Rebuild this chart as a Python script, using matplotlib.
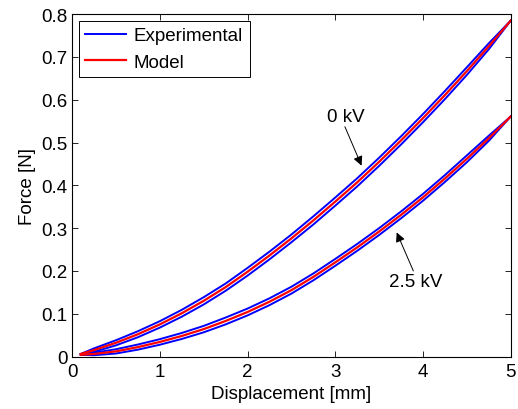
import matplotlib
matplotlib.use("Agg")
from matplotlib import pyplot as plt

plt.rcParams['font.family'] = ['Liberation Sans', 'DejaVu Sans']

disp = [0.1, 0.25, 0.5, 0.75, 1.0, 1.25, 1.5, 1.75, 2.0, 2.25, 2.5,
        2.75, 3.0, 3.25, 3.5, 3.75, 4.0, 4.25, 4.5, 4.75, 5.0]

# 0 kV - measured loading / unloading branches and model
exp_0kv_up = [0.006, 0.019, 0.038, 0.059, 0.0825, 0.109, 0.1385, 0.1705, 0.207, 0.245, 0.285,
              0.3275, 0.3715, 0.4165, 0.4645, 0.5145, 0.5665, 0.6205, 0.676, 0.732, 0.785]
exp_0kv_down = [0.006, 0.011, 0.026, 0.045, 0.0675, 0.093, 0.1215, 0.1535, 0.189, 0.227, 0.267,
                0.3085, 0.3525, 0.3975, 0.4455, 0.4955, 0.5475, 0.6015, 0.658, 0.718, 0.785]
model_0kv = [0.006, 0.015, 0.032, 0.052, 0.075, 0.101, 0.130, 0.162, 0.198, 0.236, 0.276,
             0.318, 0.362, 0.407, 0.455, 0.505, 0.557, 0.611, 0.667, 0.725, 0.785]

# 2.5 kV
exp_25kv_up = [0.004, 0.009, 0.017, 0.028, 0.0405, 0.055, 0.0715, 0.091, 0.112, 0.136, 0.163,
               0.194, 0.228, 0.263, 0.300, 0.339, 0.380, 0.424, 0.470, 0.516, 0.561]
exp_25kv_down = [0.004, 0.003, 0.007, 0.016, 0.0275, 0.041, 0.0565, 0.075, 0.096, 0.120, 0.147,
                 0.178, 0.212, 0.247, 0.284, 0.323, 0.364, 0.408, 0.454, 0.504, 0.561]
model_25kv = [0.004, 0.006, 0.012, 0.022, 0.034, 0.048, 0.064, 0.083, 0.104, 0.128, 0.155,
              0.186, 0.220, 0.255, 0.292, 0.331, 0.372, 0.416, 0.462, 0.510, 0.561]

fs = 13.5

fig = plt.figure(figsize=(5.18, 4.10), dpi=100)
ax = fig.add_axes([0.139, 0.128, 0.847, 0.835])

blue = '#0000ff'
red = '#ff0000'

ax.plot(disp, exp_0kv_up, color=blue, lw=1.4, label='Experimental')
ax.plot(disp, exp_0kv_down, color=blue, lw=1.4)
ax.plot(disp, exp_25kv_up, color=blue, lw=1.4)
ax.plot(disp, exp_25kv_down, color=blue, lw=1.4)
ax.plot(disp, model_0kv, color=red, lw=1.6, label='Model')
ax.plot(disp, model_25kv, color=red, lw=1.6)

ax.set_xlim(0, 5)
ax.set_ylim(0, 0.8)
ax.set_xticks([0, 1, 2, 3, 4, 5])
ax.set_yticks([0, 0.1, 0.2, 0.3, 0.4, 0.5, 0.6, 0.7, 0.8])
ax.set_yticklabels(['0', '0.1', '0.2', '0.3', '0.4', '0.5', '0.6', '0.7', '0.8'])
ax.tick_params(direction='in', top=True, right=True, length=4, width=0.6,
               labelsize=fs)
ax.tick_params(axis='x', pad=5)
ax.tick_params(axis='y', pad=3)
for s in ax.spines.values():
    s.set_linewidth(0.8)

ax.set_xlabel('Displacement [mm]', fontsize=fs, labelpad=3)
ax.set_ylabel('Force [N]', fontsize=fs, labelpad=4)

# voltage labels with arrows pointing at each loop
ax.text(3.12, 0.562, '0 kV', fontsize=fs, ha='center', va='center')
ax.annotate('', xy=(3.30, 0.446), xytext=(3.11, 0.537),
            arrowprops=dict(arrowstyle='-|>', color='k', lw=0.7, mutation_scale=14,
                            shrinkA=0, shrinkB=0))
ax.text(3.92, 0.176, '2.5 kV', fontsize=fs, ha='center', va='center')
ax.annotate('', xy=(3.70, 0.290), xytext=(3.89, 0.200),
            arrowprops=dict(arrowstyle='-|>', color='k', lw=0.7, mutation_scale=14,
                            shrinkA=0, shrinkB=0))

leg = ax.legend(loc='upper left', fontsize=fs, fancybox=False, framealpha=1,
                edgecolor='k', handlelength=2.2, borderpad=0.35,
                labelspacing=0.5, handletextpad=0.4, borderaxespad=0.35)
leg.get_frame().set_linewidth(0.7)

plt.savefig('out.png', dpi=100)
